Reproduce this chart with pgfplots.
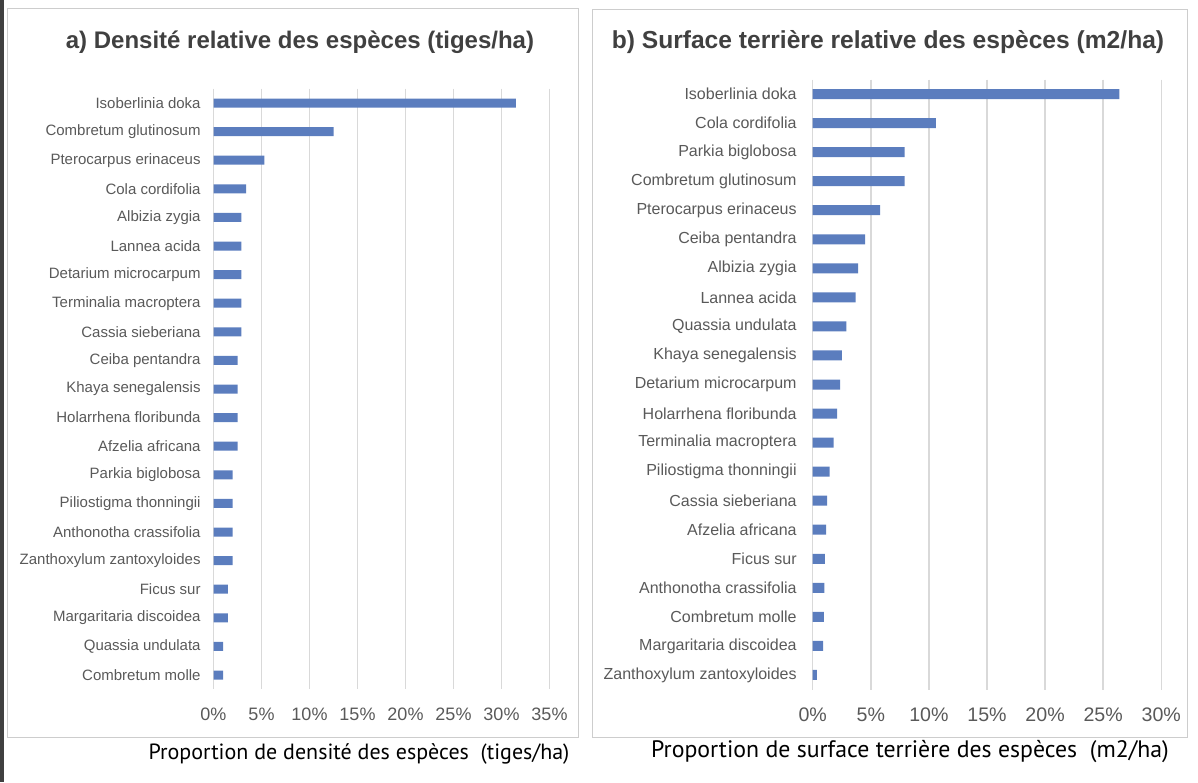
\documentclass[border=0pt]{standalone}
\usepackage{fontspec}
\usepackage{pgfplots}
\pgfplotsset{compat=1.18}
\setmainfont{Liberation Sans}
\newfontfamily\xlabfont{PT Sans}
\definecolor{barblue}{RGB}{91,125,190}
\definecolor{txtgray}{RGB}{89,89,89}
\definecolor{titlegray}{RGB}{64,64,64}
\definecolor{gridgray}{RGB}{217,217,217}
\definecolor{framegray}{RGB}{205,205,205}

\pgfplotsset{
  panel/.style={
    scale only axis,
    xbar, bar width=4.5pt,
    y dir=reverse,
    ymin=-0.5, ymax=20.5,
    xmin=0,
    ytick={0,...,20},
    xmajorgrids,
    major grid style={draw=gridgray, line width=0.75pt},
    axis line style={draw=none},
    major tick length=0pt,
    yticklabel style={font=\fontsize{7.5}{9}\selectfont, text=txtgray, anchor=east, inner sep=0pt},
    xticklabel style={font=\fontsize{9}{10}\selectfont, text=txtgray, anchor=center, yshift=-12.5pt},
  },
}

\begin{document}
\begin{tikzpicture}
\path[use as bounding box] (0,0) rectangle (599pt,391pt);
\fill[black!75] (0,0) rectangle (2pt,391pt);
\draw[framegray, line width=0.5pt] (3.5pt,22.5pt) rectangle (289pt,386.5pt);
\draw[framegray, line width=0.5pt] (296pt,22.5pt) rectangle (593.5pt,386pt);

\node[text=titlegray, font=\bfseries\fontsize{12}{14}\selectfont] at (150pt,370pt)
  {a) Densité relative des espèces (tiges/ha)};
\node[text=titlegray, font=\bfseries\fontsize{12.3}{14}\selectfont] at (444pt,370pt)
  {b) Surface terrière relative des espèces (m2/ha)};
\node[font=\xlabfont\fontsize{11}{13}\selectfont] at (179.5pt,14pt)
  {Proportion de densité des espèces\ \ (tiges/ha)};
\node[font=\xlabfont\fontsize{11.9}{13}\selectfont] at (455pt,15pt)
  {Proportion de surface terrière des espèces\ \ (m2/ha)};

\begin{axis}[panel,
  at={(106.75pt,46.35pt)}, anchor=south west,
  width=168pt, height=300.3pt,
  xmax=35, xtick={0,5,...,35},
  xticklabels={0\%,5\%,10\%,15\%,20\%,25\%,30\%,35\%},
  yticklabel style={xshift=-6.25pt},
  yticklabels={Isoberlinia doka, Combretum glutinosum, Pterocarpus erinaceus\hspace{3pt},
    Cola cordifolia, Albizia zygia, Lannea acida, Detarium microcarpum,
    Terminalia macroptera, Cassia sieberiana, Ceiba pentandra, Khaya senegalensis,
    Holarrhena floribunda, Afzelia africana, Parkia biglobosa, Piliostigma thonningii,
    Anthonotha crassifolia, Zanthoxylum zantoxyloides, Ficus sur,
    Margaritaria discoidea, Quassia undulata, Combretum molle},
]
\addplot[fill=barblue, draw=none] coordinates {
  (31.5,0) (12.5,1) (5.3,2) (3.4,3) (2.9,4) (2.9,5) (2.9,6) (2.9,7) (2.9,8)
  (2.5,9) (2.5,10) (2.5,11) (2.5,12) (2.0,13) (2.0,14) (2.0,15) (2.0,16)
  (1.5,17) (1.5,18) (1.0,19) (1.0,20)};
\end{axis}

\begin{axis}[panel,
  at={(406.35pt,46.25pt)}, anchor=south west,
  width=174.3pt, height=305pt,
  bar width=5pt,
  xmax=30, xtick={0,5,...,30},
  xticklabels={0\%,5\%,10\%,15\%,20\%,25\%,30\%},
  xticklabel style={font=\fontsize{9.8}{11}\selectfont},
  yticklabel style={font=\fontsize{8}{9.5}\selectfont, xshift=-7.85pt},
  yticklabels={Isoberlinia doka, Cola cordifolia, Parkia biglobosa,
    Combretum glutinosum, Pterocarpus erinaceus\hspace{3pt}, Ceiba pentandra,
    Albizia zygia, Lannea acida, Quassia undulata, Khaya senegalensis,
    Detarium microcarpum, Holarrhena floribunda, Terminalia macroptera,
    Piliostigma thonningii, Cassia sieberiana, Afzelia africana, Ficus sur,
    Anthonotha crassifolia, Combretum molle, Margaritaria discoidea,
    Zanthoxylum zantoxyloides},
]
\addplot[fill=barblue, draw=none] coordinates {
  (26.4,0) (10.6,1) (7.9,2) (7.9,3) (5.8,4) (4.5,5) (3.9,6) (3.7,7) (2.9,8)
  (2.5,9) (2.35,10) (2.1,11) (1.8,12) (1.45,13) (1.25,14) (1.15,15) (1.05,16)
  (1.0,17) (0.95,18) (0.9,19) (0.35,20)};
\end{axis}
\end{tikzpicture}
\end{document}
